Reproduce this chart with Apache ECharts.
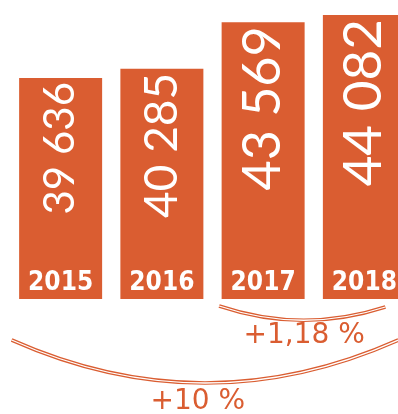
<!DOCTYPE html>
<html>
<head>
<meta charset="utf-8">
<script src="https://cdn.jsdelivr.net/npm/echarts@6/dist/echarts.min.js"></script>
<style>
  html, body { margin: 0; padding: 0; background: #fff; }
  #chart { width: 398px; height: 414px; }
</style>
</head>
<body>
<div id="chart"></div>
<script>
// Yearly totals
const years = ['2015', '2016', '2017', '2018'];
const values = [39636, 40285, 43569, 44082];
// Growth annotations
const growthShort = '+1,18 %'; // 2017 -> 2018
const growthLong = '+10 %';    // 2015 -> 2018

const ORANGE = '#da5d31';
const valueFontSizes = [42, 46, 52, 53];

const fmt = v => String(v).replace(/\B(?=(\d{3})+(?!\d))/g, ' ');

const chart = echarts.init(document.getElementById('chart'), null, { renderer: 'canvas' });

chart.setOption({
  animation: false,
  grid: { left: 10, top: 0, width: 405, height: 299, outerBoundsMode: 'none', containLabel: false },
  xAxis: {
    type: 'category',
    data: years,
    z: 10,
    axisLine: { show: false },
    axisTick: { show: false },
    axisLabel: {
      inside: true,
      margin: 3,
      color: '#fff',
      fontFamily: '"DejaVu Sans Condensed", "DejaVu Sans"',
      fontWeight: 'bold',
      fontSize: 26,
      verticalAlign: 'bottom'
    }
  },
  yAxis: { type: 'value', min: 24000, max: 45150, show: false },
  series: [{
    type: 'bar',
    barWidth: 83,
    itemStyle: { color: ORANGE },
    data: values.map((v, i) => ({ value: v, label: { fontSize: valueFontSizes[i] } })),
    label: {
      show: true,
      position: 'insideTop',
      rotate: 90,
      align: 'right',
      verticalAlign: 'middle',
      distance: 4,
      color: '#fff',
      fontFamily: 'Lato, "Noto Sans", sans-serif',
      formatter: p => fmt(p.value)
    }
  }]
});

// Double-stroked bracket arcs under the bars, placed relative to the axis
const cx = i => chart.convertToPixel({ xAxisIndex: 0 }, years[i]);
const base = chart.convertToPixel({ yAxisIndex: 0 }, 24000);

function arc(x1, y1, x2, y2, cpx, cpy) {
  const shape = { x1, y1, x2, y2, cpx1: cpx, cpy1: cpy };
  return [
    { type: 'bezierCurve', shape, style: { stroke: ORANGE, lineWidth: 3.6, fill: null }, z: 5 },
    { type: 'bezierCurve', shape, style: { stroke: '#fff', lineWidth: 1.3, fill: null }, z: 6 }
  ];
}

function label(text, x, y) {
  return {
    type: 'text', x, y, z: 7,
    style: {
      text, fill: ORANGE, align: 'center', verticalAlign: 'bottom',
      font: 'normal 28px "DejaVu Sans", sans-serif'
    }
  };
}

const sx1 = cx(2) - 44, sx2 = cx(3) + 21;
const lx1 = cx(0) - 49, lx2 = cx(3) + 34;

chart.setOption({
  graphic: [
    ...arc(sx1, base + 7, sx2, base + 8, (sx1 + sx2) / 2, base + 35),
    label(growthShort, cx(2) + 41, base + 51),
    ...arc(lx1, base + 41, lx2, base + 41, (lx1 + lx2) / 2, base + 127),
    label(growthLong, cx(1) + 36, base + 117)
  ]
});
</script>
</body>
</html>
